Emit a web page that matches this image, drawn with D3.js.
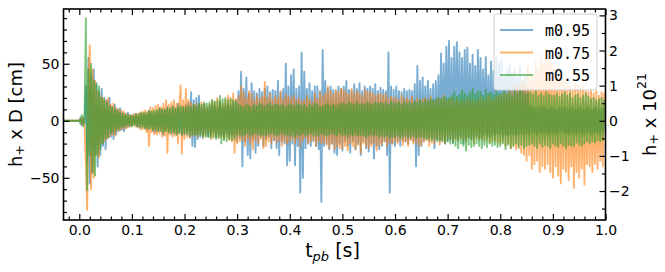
<!DOCTYPE html>
<html>
<head>
<meta charset="utf-8">
<script src="https://cdn.jsdelivr.net/npm/d3@7"></script>
<style>
body { margin: 0; background: #fff; }
text { font-family: "DejaVu Sans", sans-serif; fill: #000; }
</style>
</head>
<body>
<script>
var w = 665;
var h = 272;

// strain h+ x D [cm], one sample every 2.5 ms starting at t = -0.03 s
var tStart = -0.03;
var tStep = 0.0025;
var seriesNames = ["m0.95", "m0.75", "m0.55"];
var colors = ["#1f77b4", "#ff7f0e", "#2ca02c"];

var m095 = [
    0, 0, 0, 0, 0, 0, 0, 0, 0, 0, 0, 0,
    0, 3, -4, 2, -2, 30, -35, 55, -55, 40, -46, 45, -30, 33, -40, 25, -30, 28, -22, 20,
    -25, 18, -15, 20, -14, 12, -16, 14, -12, 10, -9, 11, -8, 7, -9, 6, -6, 7, -5, 5,
    -4, 5, -3, 6, -5, 4, -6, 7, -4, 6, -7, 5, -8, 9, -6, 8, -9, 7, -10, 8,
    -9, 11, -7, 10, -12, 9, -8, 12, -10, 9, -11, 13, -9, 10, -12, 15, -10, 11, -13, 12,
    -12, 14, -10, 16, -14, 25, -22, 18, -23, 20, -16, 22, -14, 12, -15, 14, -11, 10, -14, 13,
    -12, 15, -10, 13, -14, 11, -12, 16, -13, 12, -14, 12, -11, 14, -15, 13, -12, 16, -14, 18,
    -18, 26, -15, 43, -40, 28, -18, 38, -30, 24, -33, 33, -16, 26, -28, 24, -22, 28, -14, 25,
    -22, 28, -16, 30, -14, 25, -24, 27, -17, 26, -24, 35, -30, 25, -18, 28, -20, 50, -39, 30,
    -35, 40, -20, 45, -39, 28, -22, 30, -63, 60, -50, 43, -24, 28, -20, 33, -22, 26, -18, 30,
    -22, 30, -25, 26, -71, 62, -22, 35, -20, 28, -25, 30, -20, 27, -28, 26, -30, 30, -20, 28,
    -26, 30, -18, 35, -22, 27, -28, 26, -18, 32, -25, 28, -20, 33, -30, 26, -18, 30, -24, 28,
    -27, 30, -20, 28, -33, 32, -22, 26, -25, 29, -22, 27, -18, 26, -30, 60, -63, 30, -20, 27,
    -22, 30, -18, 26, -22, 25, -17, 28, -18, 26, -20, 27, -16, 26, -18, 32, -40, 48, -30, 35,
    -22, 38, -18, 30, -16, 35, -18, 28, -15, 32, -24, 35, -16, 40, -18, 59, -16, 50, -20, 65,
    -18, 70, -16, 55, -20, 65, -15, 69, -17, 60, -14, 55, -20, 62, -15, 64, -14, 50, -16, 58,
    -15, 48, -13, 62, -15, 55, -14, 45, -12, 56, -13, 40, -14, 52, -12, 44, -13, 56, -11, 50,
    -12, 53, -14, 40, -12, 44, -13, 50, -11, 42, -12, 45, -13, 38, -12, 48, -11, 35, -12, 40,
    -11, 30, -12, 13, -10, 12, -11, 10, -12, 11, -10, 12, -11, 13, -10, 11, -12, 10, -11, 12,
    -10, 11, -12, 10, -11, 12, -9, 11, -10, 12, -11, 10, -12, 11, -10, 12, -11, 10, -12, 11,
    -10, 12, -11, 10, -12, 11, -10, 12, -11, 10, -12, 11, -10, 12, -11, 10, -12, 11, -10, 12,
    -10
];
var m075 = [
    0, 0, 0, 0, 0, 0, 0, 0, 0, 0, 0, 0,
    0, 2, -3, 3, -5, -40, -78, 40, 66, -60, 45, -50, 35, -30, 26, -32, 22, -20, 20, -18,
    18, -16, 20, -14, 14, -12, 15, -13, 11, -9, 10, -8, 9, -7, 8, -7, 6, -6, 5, -5,
    5, -4, 6, -5, 6, -6, 7, -8, 8, -7, 9, -10, 8, -22, 12, -10, 11, -12, 13, -12,
    14, -11, 12, -14, 15, -13, 18, -28, 14, -12, 16, -14, 18, -13, 15, -20, 12, 31, -29, 18,
    -16, 28, -14, 18, -15, 16, -13, 14, -12, 15, -14, 13, -12, 16, -14, 15, -13, 12, -11, 14,
    -16, 18, -15, 16, -13, 20, -15, 17, -14, 15, -16, 18, -14, 22, -17, 20, -18, 24, -28, 19,
    -20, 22, -18, 30, -17, 25, -22, 20, -16, 26, -20, 24, -25, 18, -17, 22, -20, 19, -16, 21,
    -24, 34, -22, 20, -18, 24, -20, 18, -16, 22, -19, 20, -17, 26, -22, 19, -18, 23, -20, 21,
    -18, 20, -16, 22, -20, 18, -16, 20, -22, 17, -17, 18, -15, 22, -20, 19, -18, 16, -17, 24,
    -22, 19, -18, 25, -20, 22, -19, 24, -21, 30, -24, 26, -20, 23, -25, 27, -22, 25, -24, 28,
    -24, 27, -22, 25, -26, 23, -20, 28, -22, 24, -25, 26, -21, 24, -28, 22, -20, 27, -22, 25,
    -24, 25, -22, 24, -20, 22, -26, 23, -22, 24, -20, 22, -18, 24, -22, 20, -19, 21, -20, 20,
    -18, 20, -20, 18, -17, 22, -21, 19, -18, 20, -22, 18, -17, 21, -20, 17, -19, 20, -22, 18,
    -21, 19, -18, 20, -17, 18, -22, 21, -19, 17, -20, 18, -16, 20, -21, 19, -18, 22, -20, 18,
    -16, 18, -15, 20, -18, 17, -16, 19, -17, 16, -15, 18, -17, 16, -18, 20, -15, 17, -16, 18,
    -20, 16, -15, 18, -17, 20, -16, 17, -18, 19, -16, 22, -19, 20, -18, 18, -17, 21, -19, 22,
    -20, 22, -18, 25, -22, 24, -20, 26, -24, 25, -22, 30, -25, 28, -24, 32, -28, 35, -30, 33,
    -35, 48, -30, 42, -42, 40, -38, 52, -35, 45, -45, 58, -40, 50, -42, 62, -38, 55, -45, 50,
    -50, 45, -40, 40, -48, 36, -55, 38, -42, 35, -45, 32, -52, 30, -40, 28, -59, 32, -45, 30,
    -50, 28, -42, 30, -56, 26, -38, 25, -40, 28, -45, 24, -38, 26, -42, 22, -35, 25, -40, 24,
    20
];
var m055 = [
    0, 0, 0, 0, 0, 0, 0, 0, 0, 0, 0, 0,
    0, -3, 5, -5, 3, 90, -61, 45, -30, 50, -45, 35, -48, 32, -30, 30, -25, 20, -20, 18,
    -15, 16, -14, 13, -11, 12, -10, 10, -8, 9, -7, 7, -6, 6, -5, 5, -4, 5, -4, 4,
    -5, 4, -4, 5, -5, 6, -5, 6, -6, 7, -6, 7, -7, 8, -7, 8, -8, 9, -8, 9,
    -9, 10, -9, 10, -10, 10, -9, 11, -10, 11, -10, 12, -11, 11, -12, 12, -11, 13, -12, 12,
    -11, 12, -12, 13, -13, 12, -12, 14, -12, 13, -13, 15, -12, 14, -13, 16, -14, 15, -14, 16,
    -15, 18, -14, 17, -16, 18, -15, 22, -20, 19, -17, 20, -18, 18, -16, 19, -17, 18, -16, 17,
    -12, 14, -12, 13, -13, 12, -12, 14, -11, 13, -13, 12, -12, 14, -11, 13, -12, 15, -13, 14,
    -12, 13, -13, 14, -12, 15, -11, 13, -12, 14, -13, 14, -12, 13, -11, 14, -13, 12, -12, 14,
    -13, 14, -12, 13, -14, 15, -12, 14, -13, 13, -11, 14, -13, 12, -12, 14, -11, 13, -13, 15,
    -12, 14, -13, 12, -11, 13, -12, 14, -13, 15, -12, 13, -11, 14, -12, 13, -13, 14, -11, 15,
    -13, 15, -12, 14, -14, 16, -12, 15, -13, 14, -12, 16, -13, 14, -12, 15, -13, 14, -14, 16,
    -13, 15, -12, 14, -13, 16, -12, 15, -14, 16, -13, 15, -14, 16, -13, 14, -15, 17, -14, 15,
    -14, 15, -13, 16, -15, 14, -14, 17, -13, 15, -15, 16, -14, 15, -13, 17, -15, 16, -14, 18,
    -14, 16, -15, 18, -16, 17, -15, 19, -17, 18, -16, 19, -18, 20, -17, 19, -18, 21, -19, 20,
    -18, 20, -20, 22, -19, 25, -22, 21, -24, 23, -20, 27, -22, 24, -26, 22, -21, 25, -23, 28,
    -22, 23, -20, 26, -22, 25, -24, 22, -21, 27, -23, 24, -20, 25, -22, 23, -21, 26, -23, 24,
    -22, 24, -20, 26, -25, 23, -21, 25, -24, 22, -22, 26, -20, 24, -23, 27, -21, 25, -24, 23,
    -22, 24, -21, 25, -20, 23, -22, 26, -24, 22, -20, 24, -23, 22, -21, 25, -22, 23, -24, 22,
    -20, 22, -22, 24, -23, 21, -20, 23, -22, 25, -24, 22, -21, 24, -22, 20, -22, 22, -19, 23,
    -21, 20, -22, 22, -20, 24, -18, 21, -20, 19, -18, 20, -19, 18, -17, 19, -18, 20, -17, 18,
    16
];

var xTicks = [0.0, 0.1, 0.2, 0.3, 0.4, 0.5, 0.6, 0.7, 0.8, 0.9, 1.0];
var yTicks = [-50, 0, 50];
var y2Ticks = [-2, -1, 0, 1, 2, 3];
// h+ x 10^21 per cm of h+ x D
var cmPerStrain = 30.8;

var pLeft = 63.5, pRight = 605.5, pTop = 9, pBottom = 220;

var xScale = d3.scaleLinear().domain([-0.03, 1.0]).range([pLeft, pRight]);
var yScale = d3.scaleLinear().domain([-87, 98]).range([pBottom, pTop]);
var y2Scale = d3.scaleLinear()
    .domain([-87 / cmPerStrain, 98 / cmPerStrain])
    .range([pBottom, pTop]);

var svg = d3.select("body")
    .append("svg")
    .attr("width", w)
    .attr("height", h);

svg.append("clipPath").attr("id", "clip")
    .append("rect")
    .attr("x", pLeft).attr("y", pTop)
    .attr("width", pRight - pLeft).attr("height", pBottom - pTop);

var series = [m095, m075, m055].map(function (vals) {
    return vals.map(function (v, i) { return [tStart + i * tStep, v]; });
});

var line = d3.line()
    .x(function (d) { return xScale(d[0]); })
    .y(function (d) { return yScale(d[1]); });

svg.append("g")
    .attr("clip-path", "url(#clip)")
    .selectAll("path")
    .data(series)
    .enter()
    .append("path")
    .attr("d", line)
    .attr("fill", "none")
    .attr("stroke", function (d, i) { return colors[i]; })
    .attr("stroke-opacity", 0.6)
    .attr("stroke-width", 1.9)
    .attr("stroke-linejoin", "round");

// minor tick positions
var xMinor = d3.range(-0.02, 1.001, 0.02).filter(function (v) {
    return Math.abs(v * 10 - Math.round(v * 10)) > 1e-6;
});
var yMinor = d3.range(-80, 91, 10).filter(function (v) { return v % 50 !== 0; });
var y2Minor = [-2.5, -1.5, -0.5, 0.5, 1.5, 2.5];

function style(g, size) {
    g.select(".domain").remove();
    g.selectAll(".tick line").attr("stroke", "#000").attr("stroke-width", 1.2);
    g.selectAll(".tick text").attr("font-size", size).attr("font-family", "DejaVu Sans");
}

svg.append("g").attr("transform", "translate(0," + pBottom + ")")
    .call(d3.axisBottom(xScale).tickValues(xTicks).tickSize(-6).tickPadding(5)
        .tickFormat(d3.format(".1f")))
    .call(style, 14);
svg.append("g").attr("transform", "translate(0," + pBottom + ")")
    .call(d3.axisBottom(xScale).tickValues(xMinor).tickSize(-3.5).tickFormat(""))
    .call(style, 14);
svg.append("g").attr("transform", "translate(0," + pTop + ")")
    .call(d3.axisTop(xScale).tickValues(xTicks).tickSize(-6).tickFormat(""))
    .call(style, 14);
svg.append("g").attr("transform", "translate(0," + pTop + ")")
    .call(d3.axisTop(xScale).tickValues(xMinor).tickSize(-3.5).tickFormat(""))
    .call(style, 14);

svg.append("g").attr("transform", "translate(" + pLeft + ",0)")
    .call(d3.axisLeft(yScale).tickValues(yTicks).tickSize(-6).tickPadding(4))
    .call(style, 14);
svg.append("g").attr("transform", "translate(" + pLeft + ",0)")
    .call(d3.axisLeft(yScale).tickValues(yMinor).tickSize(-3.5).tickFormat(""))
    .call(style, 14);

svg.append("g").attr("transform", "translate(" + pRight + ",0)")
    .call(d3.axisRight(y2Scale).tickValues(y2Ticks).tickSize(-6).tickPadding(3.5)
        .tickFormat(d3.format("d")))
    .call(style, 14);
svg.append("g").attr("transform", "translate(" + pRight + ",0)")
    .call(d3.axisRight(y2Scale).tickValues(y2Minor).tickSize(-3.5).tickFormat(""))
    .call(style, 14);

svg.append("rect")
    .attr("x", pLeft).attr("y", pTop)
    .attr("width", pRight - pLeft).attr("height", pBottom - pTop)
    .attr("fill", "none")
    .attr("stroke", "#000")
    .attr("stroke-width", 1.6);

// axis labels
var yl = svg.append("text")
    .attr("transform", "translate(15," + ((pTop + pBottom) / 2) + ") rotate(-90)")
    .attr("text-anchor", "middle")
    .attr("dominant-baseline", "central")
    .attr("font-size", 18);
yl.append("tspan").text("h");
yl.append("tspan").attr("font-size", 12.5).attr("dy", 4).text("+");
yl.append("tspan").attr("dy", -4).text(" x  D [cm]");

var y2l = svg.append("text")
    .attr("transform", "translate(649," + ((pTop + pBottom) / 2) + ") rotate(-90)")
    .attr("text-anchor", "middle")
    .attr("dominant-baseline", "central")
    .attr("font-size", 18);
y2l.append("tspan").text("h");
y2l.append("tspan").attr("font-size", 12.5).attr("dy", 4).text("+");
y2l.append("tspan").attr("dy", -4).text(" x 10");
y2l.append("tspan").attr("font-size", 12.5).attr("dy", -8).text("21");

var xl = svg.append("text")
    .attr("x", (pLeft + pRight) / 2 - 2)
    .attr("y", 257)
    .attr("text-anchor", "middle")
    .attr("font-size", 19);
xl.append("tspan").text("t");
xl.append("tspan").attr("font-size", 13).attr("font-style", "italic").attr("dy", 4).text("pb");
xl.append("tspan").attr("dy", -4).text(" [s]");

// legend
var legend = svg.append("g");
legend.append("rect")
    .attr("x", 494).attr("y", 14)
    .attr("width", 103).attr("height", 76)
    .attr("rx", 3)
    .attr("fill", "#fff")
    .attr("fill-opacity", 0.8)
    .attr("stroke", "#d0d0d0")
    .attr("stroke-width", 1);

var items = legend.selectAll("g.item")
    .data(seriesNames)
    .enter()
    .append("g")
    .attr("class", "item")
    .attr("transform", function (d, i) { return "translate(0," + (30 + i * 22.5) + ")"; });
items.append("line")
    .attr("x1", 500).attr("x2", 533)
    .attr("stroke", function (d, i) { return colors[i]; })
    .attr("stroke-opacity", 0.6)
    .attr("stroke-width", 2);
items.append("text")
    .attr("x", 545).attr("y", 6)
    .style("font-family", "'DejaVu Sans Mono', monospace")
    .attr("font-size", 15)
    .text(function (d) { return d; });
</script>
</body>
</html>
